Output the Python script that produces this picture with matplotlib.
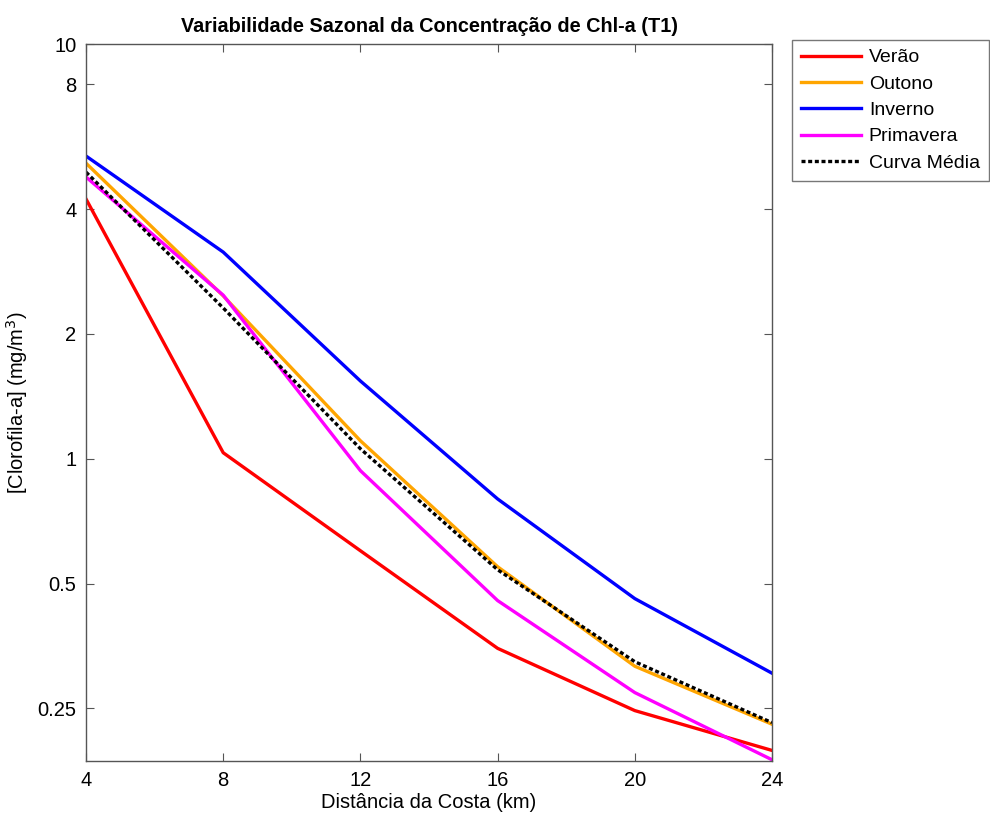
import numpy as np
import matplotlib
matplotlib.use('Agg')
import matplotlib.pyplot as plt

plt.rcParams['font.family'] = ['Liberation Sans', 'DejaVu Sans']

# dados
distancia = [4, 8, 12, 16, 20, 24]
verao = [4.23, 1.034, 0.60, 0.349, 0.247, 0.198]
outono = [5.16, 2.47, 1.105, 0.549, 0.316, 0.229]
inverno = [5.37, 3.15, 1.54, 0.80, 0.46, 0.304]
primavera = [4.78, 2.48, 0.936, 0.455, 0.273, 0.188]
media = [4.91, 2.31, 1.057, 0.54, 0.324, 0.231]

yticks = [0.25, 0.5, 1, 2, 4, 8, 10]
yticklabels = ['0.25', '0.5', '1', '2', '4', '8', '10']
xticks = [4, 8, 12, 16, 20, 24]

fig = plt.figure(figsize=(9.9, 8.16), dpi=100)
ax = fig.add_axes([0.0869, 0.0674, 0.6929, 0.8786])

lw = 2.4
ax.plot(distancia, verao, color='#ff0000', lw=lw, label='Verão')
ax.plot(distancia, outono, color='#ffa500', lw=lw, label='Outono')
ax.plot(distancia, inverno, color='#0000ff', lw=lw, label='Inverno')
ax.plot(distancia, primavera, color='#ff00ff', lw=lw, label='Primavera')
ax.plot(distancia, media, color='black', lw=lw, ls=(0, (1.2, 0.8)), label='Curva Média')

ax.set_yscale('log')
ax.set_xlim(4, 24)
ax.set_ylim(0.1867, 10)
ax.set_xticks(xticks)
ax.set_xticklabels([str(x) for x in xticks])
ax.set_yticks(yticks)
ax.set_yticklabels(yticklabels)
ax.minorticks_off()
ax.tick_params(direction='in', length=6, width=0.8, top=True, right=True,
               labelsize=14.5, pad=7, color='#555555')
for s in ax.spines.values():
    s.set_color('#555555')
    s.set_linewidth(1.0)

ax.set_title('Variabilidade Sazonal da Concentração de Chl-a (T1)',
             fontsize=14.3, fontweight='bold', pad=9)
ax.set_xlabel('Distância da Costa (km)', fontsize=14.5, labelpad=2)
ax.set_ylabel('[Clorofila-a] (mg/m$^3$)', fontsize=14.5, labelpad=5)

leg = fig.legend(loc='upper left', bbox_to_anchor=(792 / 990, 1 - 40 / 816),
                 fontsize=14, frameon=True, fancybox=False, handlelength=3.1,
                 handletextpad=0.4, borderpad=0.45, labelspacing=0.45,
                 borderaxespad=0)
leg.get_frame().set_edgecolor('#555555')
leg.get_frame().set_linewidth(1.0)

fig.savefig('out.png', dpi=100)
